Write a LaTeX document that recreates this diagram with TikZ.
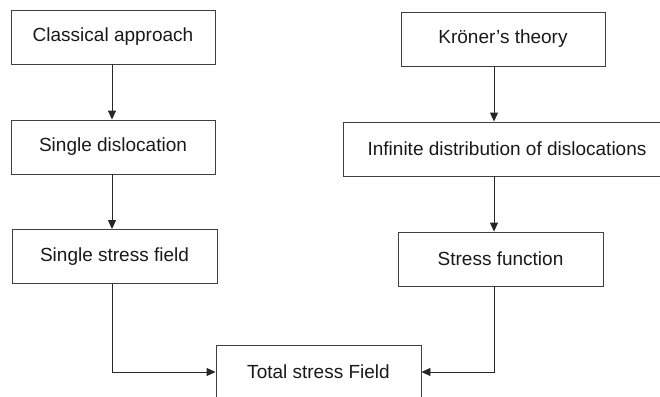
\documentclass[tikz,border=0pt]{standalone}
\usepackage{fontspec}
\setmainfont{Liberation Sans}
\usepackage{tikz}
\usetikzlibrary{arrows.meta}

\begin{document}
\begin{tikzpicture}[x=1pt, y=-1pt,
  box/.style={draw=black!75, line width=0.9pt, text=black!90, minimum height=54pt,
    inner sep=0pt, font=\fontsize{19}{23}\selectfont},
  arr/.style={draw=black!85, line width=0.9pt, -{Triangle[length=9pt,width=8pt]}}]
\useasboundingbox (0,0) rectangle (660,396);
\node[box, minimum width=204pt] (classic) at (113,37) {Classical approach};
\node[box, minimum width=204pt] (single) at (113,147) {Single dislocation};
\node[box, minimum width=205pt] (sfield) at (114.5,256.5) {Single stress field};
\node[box, minimum width=204pt] (kroner) at (503,39) {Kr\"oner’s theory};
\node[box, minimum width=328pt] (infdist) at (507,149) {Infinite distribution of dislocations};
\node[box, minimum width=205pt] (sfunc) at (500.5,259) {Stress function};
\node[box, minimum width=205pt] (total) at (318.5,372) {Total stress Field};
\coordinate (lcol) at (112,0);
\coordinate (rcol) at (494,0);
\draw[arr] (classic.south -| lcol) -- (single.north -| lcol);
\draw[arr] (single.south -| lcol) -- (sfield.north -| lcol);
\draw[arr] (sfield.south -| lcol) |- (total.west);
\draw[arr] (kroner.south -| rcol) -- (infdist.north -| rcol);
\draw[arr] (infdist.south -| rcol) -- (sfunc.north -| rcol);
\draw[arr] (sfunc.south -| rcol) |- (total.east);
\end{tikzpicture}
\end{document}
